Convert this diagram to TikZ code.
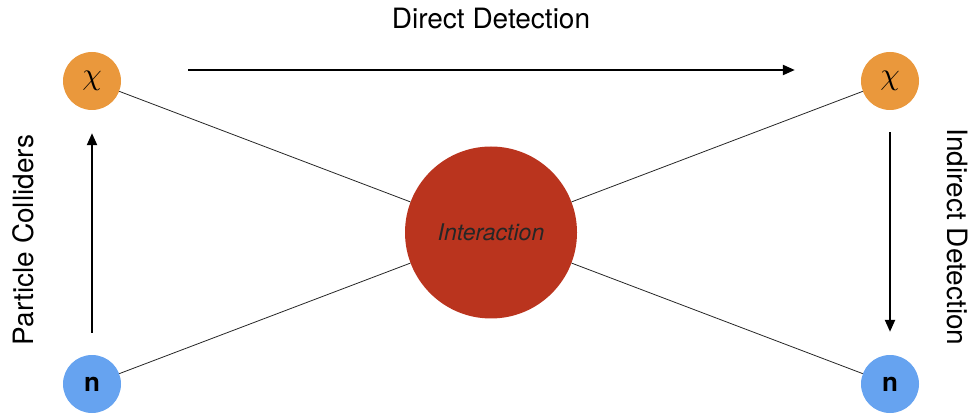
\documentclass[tikz,border=0pt]{standalone}
\usepackage{fontspec}
\setmainfont{TeX Gyre Heros}
\usetikzlibrary{arrows.meta}

\definecolor{chiorange}{RGB}{234,152,60}
\definecolor{nblue}{RGB}{102,163,240}
\definecolor{intred}{RGB}{186,52,30}

\begin{document}
\begin{tikzpicture}[x=1pt, y=1pt,
  particle/.style={circle, minimum size=58pt, inner sep=0pt},
  flow/.style={line width=2.2pt, -{Triangle[length=12pt,width=10pt]}},
  link/.style={line width=0.8pt, black!85},
  label/.style={font=\fontsize{28}{30}\selectfont}]
  \useasboundingbox (0,0) rectangle (971,415);

  % particles
  \node[particle, fill=chiorange] (chiL) at (92,334) {\scalebox{3.1}{$\chi$}};
  \node[particle, fill=chiorange] (chiR) at (890,334) {\scalebox{3.1}{$\chi$}};
  \node[particle, fill=nblue] (nL) at (92,31) {\fontsize{26}{26}\selectfont\bfseries n};
  \node[particle, fill=nblue] (nR) at (890,31) {\fontsize{26}{26}\selectfont\bfseries n};
  \node[circle, fill=intred, minimum size=172pt, inner sep=0pt] (core) at (491,182.5)
    {\fontsize{23}{23}\selectfont\itshape\color{black!85}Interaction};

  % the cross
  \draw[link] (chiL) -- (core);
  \draw[link] (core) -- (nR);
  \draw[link] (nL) -- (core);
  \draw[link] (core) -- (chiR);

  % channels
  \draw[flow, shorten <=67pt, shorten >=66pt] ([yshift=11pt]chiL.east) -- ([yshift=11pt]chiR.west);
  \draw[flow, shorten <=22pt, shorten >=23pt] (nL) -- (chiL);
  \draw[flow, shorten <=22pt, shorten >=23pt] (chiR) -- (nR);

  \node[label] (direct) at (491,396) {Direct Detection};
  \node[label, rotate=90] (colliders) at (23,175) {Particle Colliders};
  \node[label, rotate=-90] (indirect) at (957,178) {Indirect Detection};
\end{tikzpicture}
\end{document}
